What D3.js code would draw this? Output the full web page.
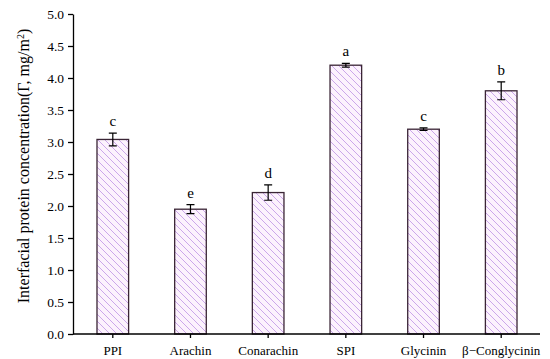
<!DOCTYPE html>
<html lang="en">
<head>
  <script src="https://d3js.org/d3.v7.min.js"></script>
  <style>
    body { margin: 0; background: #fff; }
    text { font-family: "Liberation Serif", "Times New Roman", serif; fill: #000; }
    .axis path, .axis line { stroke: #000; stroke-width: 1.3px; }
    .bar { fill: url(#hatch); stroke: #3a2535; stroke-width: 1.3px; }
    .err { stroke: #000; stroke-width: 1.2px; fill: none; }
  </style>
</head>
<body>
<script>
// data
const proteins = ["PPI", "Arachin", "Conarachin", "SPI", "Glycinin", "\u03b2\u2212Conglycinin"];
const concentration = [3.04, 1.95, 2.21, 4.20, 3.20, 3.80];
const errors = [0.10, 0.07, 0.12, 0.03, 0.02, 0.14];
const letters = ["c", "e", "d", "a", "c", "b"];
const yTicks = [0, 0.5, 1, 1.5, 2, 2.5, 3, 3.5, 4, 4.5, 5];

const data = proteins.map((p, i) => ({
  name: p, value: concentration[i], err: errors[i], letter: letters[i]
}));

const width = 550, height = 359;

const svg = d3.select("body")
  .append("svg")
  .attr("width", width)
  .attr("height", height);

// hatch pattern for the bars
const defs = svg.append("defs");
const pat = defs.append("pattern")
  .attr("id", "hatch")
  .attr("patternUnits", "userSpaceOnUse")
  .attr("width", 7)
  .attr("height", 7);
pat.append("rect").attr("width", 7).attr("height", 7).attr("fill", "#fcf2fd");
pat.append("path")
  .attr("d", "M-1,-1 L8,8 M-1,6 L1,8 M6,-1 L8,1")
  .attr("stroke", "#cba7ea")
  .attr("stroke-width", 1);

const x = d3.scaleBand()
  .domain(proteins)
  .range([74, 540])
  .paddingInner(0.593)
  .paddingOuter(0.296);

const y = d3.scaleLinear()
  .domain([0, 5])
  .range([334, 14]);

// bars
svg.selectAll(".bar")
  .data(data)
  .enter().append("rect")
  .attr("class", "bar")
  .attr("x", d => x(d.name))
  .attr("y", d => y(d.value))
  .attr("width", x.bandwidth())
  .attr("height", d => y(0) - y(d.value));

// error bars
const eb = svg.selectAll(".errg")
  .data(data)
  .enter().append("g")
  .attr("transform", d => "translate(" + (x(d.name) + x.bandwidth() / 2) + ",0)");
eb.append("path")
  .attr("class", "err")
  .attr("d", d => "M0," + y(d.value + d.err) + "V" + y(d.value - d.err) +
    "M-4," + y(d.value + d.err) + "H4" +
    "M-4," + y(d.value - d.err) + "H4");

// significance letters
eb.append("text")
  .attr("y", d => y(d.value + d.err) - 7)
  .attr("text-anchor", "middle")
  .style("font-size", "15px")
  .text(d => d.letter);

// axes
svg.append("g")
  .attr("class", "axis")
  .attr("transform", "translate(0," + y(0) + ")")
  .call(d3.axisBottom(x).tickSize(4).tickSizeOuter(0))
  .call(g => g.select(".domain").attr("d", "M73,0H540"))
  .selectAll("text")
  .style("font-size", "13px")
  .attr("dy", "1.05em");

svg.append("g")
  .attr("class", "axis")
  .attr("transform", "translate(73,0)")
  .call(d3.axisLeft(y).tickValues(yTicks).tickFormat(d3.format(".1f")).tickSize(5).tickSizeOuter(0))
  .selectAll("text")
  .style("font-size", "13.5px")
  .attr("x", -9);

// y-axis title
const title = svg.append("text")
  .attr("transform", "translate(29,166) rotate(-90)")
  .attr("text-anchor", "middle")
  .style("font-size", "16px");
title.append("tspan").text("Interfacial protein concentration(\u0393, mg/m");
title.append("tspan").attr("baseline-shift", "super").style("font-size", "10px").text("2");
title.append("tspan").text(")");
</script>
</body>
</html>
